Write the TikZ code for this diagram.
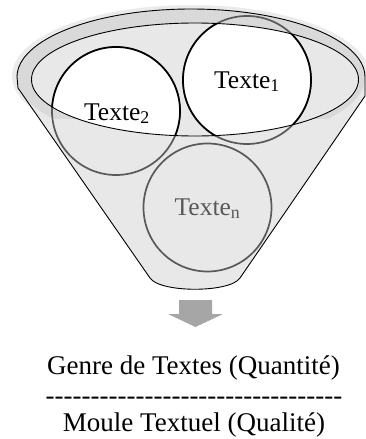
\documentclass[tikz,border=0pt]{standalone}
\usepackage{fontspec}
\setmainfont{Liberation Serif}
\newfontfamily\hyfont{Liberation Serif}[Ligatures=TeXOff]
\definecolor{bodygray}{HTML}{E8E8E8}
\definecolor{bandgray}{HTML}{D9D9D9}
\definecolor{glowgray}{HTML}{EBEBEB}
\definecolor{ringgray}{HTML}{595959}
\definecolor{arrowgray}{HTML}{A6A6A6}
\tikzset{
  rim/.style={line width=0.9pt, line join=round},
  ringline/.style={draw=ringgray, line width=1.7pt},
  blackring/.style={draw=black, fill=white, line width=1.7pt},
  circtext/.style={font=\fontsize{25.5}{30}\selectfont, anchor=base, inner sep=0pt},
  captext/.style={font=\fontsize{27}{31}\selectfont, anchor=base, inner sep=0pt},
}
\begin{document}
\begin{tikzpicture}[x=1pt,y=-1pt]
\useasboundingbox (0,0) rectangle (366,439);
% glow
\fill[glowgray] (191,76) ellipse[x radius=179pt, y radius=71pt];
% funnel body
\fill[bodygray] (17,77) arc[start angle=180,end angle=0,x radius=174pt,y radius=68pt]
  -- (365,96) -- (240,278) .. controls (230,293) and (160,293) .. (150,278) -- (18,88) -- cycle;
% rim band
\begin{scope}
  \clip (0,0) rectangle (366,118);
  \fill[bandgray, even odd rule] (191,77) ellipse[x radius=174pt,y radius=68pt]
    (195,79.5) ellipse[x radius=163.5pt,y radius=56.5pt];
\end{scope}
\draw[rim] (17,77) arc[start angle=180,end angle=0,x radius=174pt,y radius=68pt]
  -- (365,96) -- (240,278) .. controls (230,293) and (160,293) .. (150,278) -- (18,88) -- cycle;
% circles (gray outlines)
\draw[ringline] (247,80) circle[radius=64pt];
\draw[ringline] (116,111) circle[radius=64pt];
\draw[ringline] (207.5,207.5) circle[radius=64pt];
% inside the rim
\begin{scope}
  \clip (195,79.5) ellipse[x radius=163.5pt,y radius=56.5pt];
  \draw[blackring] (247,80) circle[radius=64pt];
  \draw[blackring] (116,111) circle[radius=64pt];
\end{scope}
\draw[rim] (195,79.5) ellipse[x radius=163.5pt,y radius=56.5pt];
% texts in circles
\node[circtext] (t1) at (247,88) {Texte\textsubscript{1}};
\node[circtext] (t2) at (117,120) {Texte\textsubscript{2}};
\node[circtext, text=ringgray] (tn) at (207.5,215) {Texte\textsubscript{n}};
% arrow
\fill[arrowgray] (179,300) -- (212,300) -- (212,314) -- (223,314) -- (195.5,327) -- (168,314) -- (179,314) -- cycle;
% caption
\node[captext] (genre) at (193.5,374) {Genre de Textes (Quantité)};
\node[captext, font=\hyfont\fontsize{27}{31}\selectfont] (sep) at (194,404) {---------------------------------};
\node[captext] (moule) at (194,431.5) {Moule Textuel (Qualité)};
\end{tikzpicture}
\end{document}
